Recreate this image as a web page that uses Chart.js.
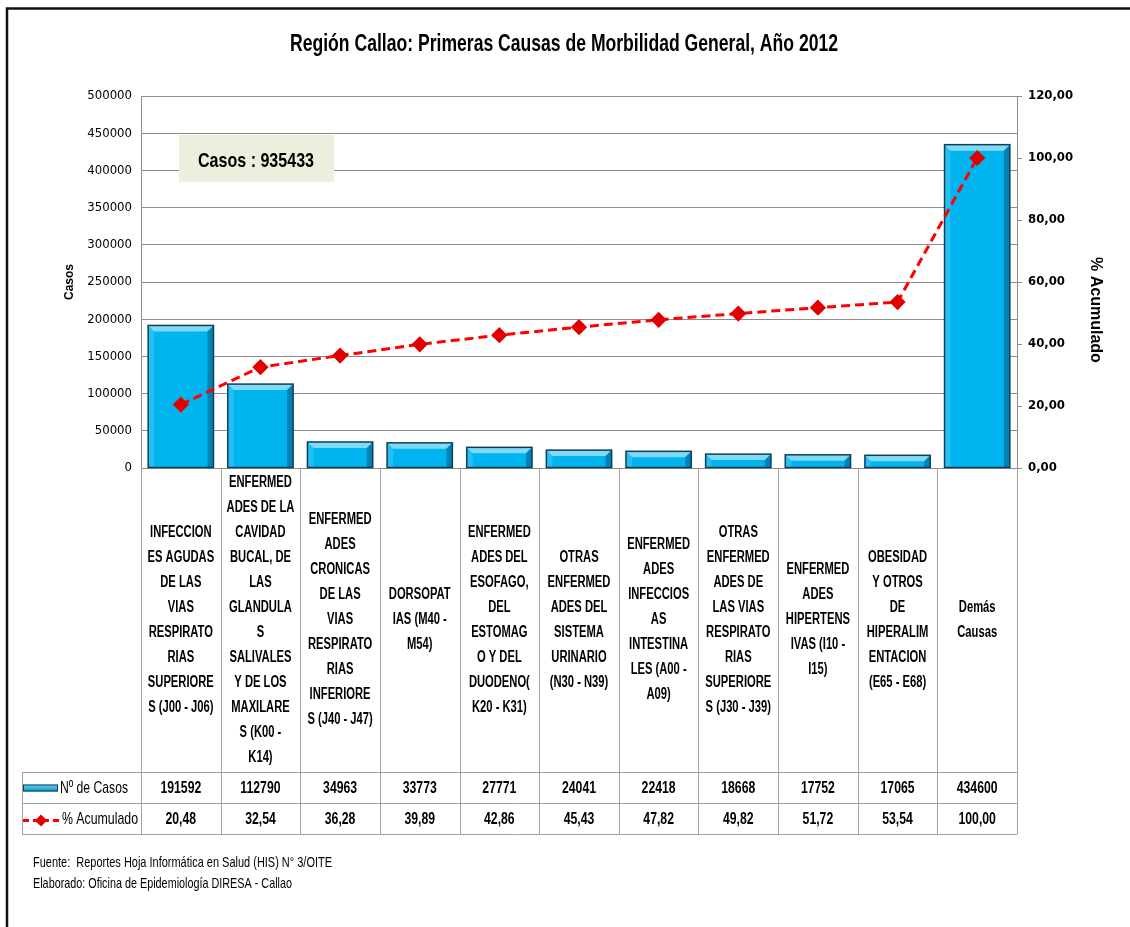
<!DOCTYPE html>
<html>
<head>
<meta charset="utf-8">
<script src="https://cdn.jsdelivr.net/npm/chart.js@4"></script>
<style>
	body { margin: 0; background: #fff; }
	canvas { display: block; }
</style>
</head>
<body>
<canvas id="chart" width="1130" height="927"></canvas>
<script>
// Datos del gráfico
const causas = [
	['INFECCION', 'ES AGUDAS', 'DE LAS', 'VIAS', 'RESPIRATO', 'RIAS', 'SUPERIORE', 'S (J00 - J06)'],
	['ENFERMED', 'ADES DE LA', 'CAVIDAD', 'BUCAL, DE', 'LAS', 'GLANDULA', 'S', 'SALIVALES', 'Y DE LOS', 'MAXILARE', 'S (K00 -', 'K14)'],
	['ENFERMED', 'ADES', 'CRONICAS', 'DE LAS', 'VIAS', 'RESPIRATO', 'RIAS', 'INFERIORE', 'S (J40 - J47)'],
	['DORSOPAT', 'IAS (M40 -', 'M54)'],
	['ENFERMED', 'ADES DEL', 'ESOFAGO,', 'DEL', 'ESTOMAG', 'O Y DEL', 'DUODENO(', 'K20 - K31)'],
	['OTRAS', 'ENFERMED', 'ADES DEL', 'SISTEMA', 'URINARIO', '(N30 - N39)'],
	['ENFERMED', 'ADES', 'INFECCIOS', 'AS', 'INTESTINA', 'LES (A00 -', 'A09)'],
	['OTRAS', 'ENFERMED', 'ADES DE', 'LAS VIAS', 'RESPIRATO', 'RIAS', 'SUPERIORE', 'S (J30 - J39)'],
	['ENFERMED', 'ADES', 'HIPERTENS', 'IVAS (I10 -', 'I15)'],
	['OBESIDAD', 'Y OTROS', 'DE', 'HIPERALIM', 'ENTACION', '(E65 - E68)'],
	['Demás', 'Causas']
];
const casos = [191592, 112790, 34963, 33773, 27771, 24041, 22418, 18668, 17752, 17065, 434600];
const acumulado = [20.48, 32.54, 36.28, 39.89, 42.86, 45.43, 47.82, 49.82, 51.72, 53.54, 100.00];
const casosMax = 500000;
const casosPaso = 50000;
const pctMax = 120;
const pctPaso = 20;
const totalCasos = 935433;

const titulo = 'Región Callao: Primeras Causas de Morbilidad General, Año 2012';
const fuente = 'Fuente:  Reportes Hoja Informática en Salud (HIS) N° 3/OITE';
const elaborado = 'Elaborado: Oficina de Epidemiología DIRESA - Callao';

const FUENTE = '"Liberation Sans", Arial, sans-serif';
const ANGOSTA = '"Liberation Sans Narrow", "DejaVu Sans Condensed", "Liberation Sans", sans-serif';
const GRIS = '#8c8c8c';

const coma = (v) => v.toFixed(2).replace('.', ',');

// escribe texto comprimido horizontalmente (sx) o ajustado a un ancho
function texto(ctx, str, x, y, opts) {
	const o = Object.assign({ size: 16, bold: false, align: 'left', base: 'alphabetic', sx: 0.7, ancho: null }, opts);
	ctx.save();
	ctx.font = (o.bold ? 'bold ' : '') + o.size + 'px ' + FUENTE;
	ctx.fillStyle = o.color || '#000';
	ctx.textAlign = o.align;
	ctx.textBaseline = o.base;
	ctx.translate(x, y);
	let sx = o.sx;
	if (o.ancho) sx = o.ancho / ctx.measureText(str).width;
	ctx.scale(sx, 1);
	ctx.fillText(str, 0, 0);
	ctx.restore();
}

// relieve de las barras
const relieve = {
	id: 'relieve',
	afterDatasetDraw(chart, args) {
		if (args.index !== 1) return;
		const ctx = chart.ctx;
		args.meta.data.forEach((bar) => {
			const l = bar.x - bar.width / 2;
			const r = bar.x + bar.width / 2;
			const t = bar.y;
			const b = bar.base;
			const d = Math.min(6, (b - t) / 2);
			ctx.save();
			ctx.fillStyle = 'rgba(255,255,255,0.5)';
			ctx.beginPath();
			ctx.moveTo(l, t); ctx.lineTo(r, t); ctx.lineTo(r - d, t + d); ctx.lineTo(l + d, t + d);
			ctx.closePath(); ctx.fill();
			ctx.fillStyle = 'rgba(0,40,70,0.35)';
			ctx.beginPath();
			ctx.moveTo(r, t); ctx.lineTo(r, b); ctx.lineTo(r - d, b); ctx.lineTo(r - d, t + d);
			ctx.closePath(); ctx.fill();
			ctx.fillStyle = 'rgba(255,255,255,0.15)';
			ctx.beginPath();
			ctx.moveTo(l, t); ctx.lineTo(l + d, t + d); ctx.lineTo(l + d, b); ctx.lineTo(l, b);
			ctx.closePath(); ctx.fill();
			ctx.strokeStyle = '#0d3f57';
			ctx.lineWidth = 1.5;
			ctx.strokeRect(l, t, r - l, b - t);
			ctx.restore();
		});
	}
};

// tabla de datos, títulos y textos
const tabla = {
	id: 'tabla',
	afterDatasetsDraw(chart) {
		const ctx = chart.ctx;
		const area = chart.chartArea;
		const x = chart.scales.x;
		const n = causas.length;
		const w = x.width / n;
		const yLab = area.bottom + 304;
		const yFila1 = yLab + 31;
		const yFila2 = yFila1 + 31;
		const xLeyenda = 22;

		// cuadro de casos
		ctx.fillStyle = '#ebf0de';
		ctx.fillRect(179, 135, 155, 47);
		texto(ctx, 'Casos : ' + totalCasos, 256, 167, { size: 21, bold: true, align: 'center', ancho: 116 });

		// líneas de la tabla
		ctx.save();
		ctx.strokeStyle = '#a3a3a3';
		ctx.lineWidth = 1;
		for (let i = 0; i <= n; i++) {
			const bx = Math.round(x.getPixelForValue(i) - w / 2) + 0.5;
			ctx.beginPath();
			ctx.moveTo(bx, area.bottom);
			ctx.lineTo(bx, yFila2);
			ctx.stroke();
		}
		ctx.beginPath();
		ctx.moveTo(xLeyenda + 0.5, yLab);
		ctx.lineTo(xLeyenda + 0.5, yFila2);
		[yLab, yFila1, yFila2].forEach((y) => {
			ctx.moveTo(xLeyenda, y + 0.5);
			ctx.lineTo(x.right, y + 0.5);
		});
		ctx.stroke();
		ctx.restore();

		// etiquetas de categorías y valores
		const yCentro = (area.bottom + yLab) / 2;
		causas.forEach((lineas, i) => {
			const cx = x.getPixelForValue(i);
			lineas.forEach((ln, j) => {
				const y = yCentro - (lineas.length - 1) * 12.5 + j * 25;
				texto(ctx, ln, cx, y, { size: 16, bold: true, align: 'center', base: 'middle', sx: 0.7 });
			});
			texto(ctx, String(casos[i]), cx, (yLab + yFila1) / 2 + 1, { size: 17, bold: true, align: 'center', base: 'middle', sx: 0.72 });
			texto(ctx, coma(acumulado[i]), cx, (yFila1 + yFila2) / 2 + 1, { size: 17, bold: true, align: 'center', base: 'middle', sx: 0.72 });
		});

		// leyenda
		const yl1 = (yLab + yFila1) / 2;
		const yl2 = (yFila1 + yFila2) / 2;
		const grad = ctx.createLinearGradient(0, yl1 - 4, 0, yl1 + 4);
		grad.addColorStop(0, '#7fd8f7');
		grad.addColorStop(1, '#0096cf');
		ctx.fillStyle = grad;
		ctx.fillRect(23, yl1 - 3, 35, 7);
		ctx.strokeStyle = '#0d3f57';
		ctx.lineWidth = 1;
		ctx.strokeRect(23.5, yl1 - 2.5, 34, 6);
		texto(ctx, 'Nº de Casos', 60, yl1 + 1, { size: 17, base: 'middle', ancho: 68 });

		ctx.save();
		ctx.strokeStyle = '#ff0000';
		ctx.lineWidth = 3;
		ctx.setLineDash([6, 4]);
		ctx.beginPath();
		ctx.moveTo(23, yl2 + 2);
		ctx.lineTo(60, yl2 + 2);
		ctx.stroke();
		ctx.fillStyle = '#e00000';
		ctx.beginPath();
		ctx.moveTo(41, yl2 - 4); ctx.lineTo(47, yl2 + 2); ctx.lineTo(41, yl2 + 8); ctx.lineTo(35, yl2 + 2);
		ctx.closePath(); ctx.fill();
		ctx.restore();
		texto(ctx, '% Acumulado', 62, yl2 + 1, { size: 17, base: 'middle', ancho: 76 });

		// títulos
		texto(ctx, titulo, 564, 51, { size: 24, bold: true, align: 'center', ancho: 548 });
		ctx.save();
		ctx.font = 'bold 12px ' + FUENTE;
		ctx.fillStyle = '#000';
		ctx.textAlign = 'center';
		ctx.textBaseline = 'middle';
		ctx.translate(70, 282);
		ctx.rotate(-Math.PI / 2);
		ctx.fillText('Casos', 0, 0);
		ctx.restore();
		ctx.save();
		ctx.font = 'bold 16px ' + FUENTE;
		ctx.fillStyle = '#000';
		ctx.textAlign = 'center';
		ctx.textBaseline = 'middle';
		ctx.translate(1095, 310);
		ctx.rotate(Math.PI / 2);
		ctx.fillText('% Acumulado', 0, 0);
		ctx.restore();

		// fuente
		texto(ctx, fuente, 33, 867, { size: 15, ancho: 299 });
		texto(ctx, elaborado, 33, 888, { size: 15, ancho: 259 });

		// marco
		ctx.save();
		ctx.strokeStyle = '#111';
		ctx.lineWidth = 2.5;
		ctx.beginPath();
		ctx.moveTo(1130, 8.5);
		ctx.lineTo(7, 8.5);
		ctx.lineTo(7, 927);
		ctx.stroke();
		ctx.restore();
	}
};

const canvas = document.getElementById('chart');

const config = {
	type: 'bar',
	data: {
		labels: causas.map((c) => c.join(' ')),
		datasets: [
			{
				type: 'line',
				label: '% Acumulado',
				data: acumulado,
				yAxisID: 'y1',
				order: 0,
				borderColor: '#ff0000',
				borderWidth: 3,
				borderDash: [9, 5],
				pointStyle: 'rectRot',
				pointRadius: 6,
				pointBackgroundColor: '#e00000',
				pointBorderColor: '#e00000',
				tension: 0
			},
			{
				type: 'bar',
				label: 'Nº de Casos',
				data: casos,
				yAxisID: 'y',
				order: 1,
				backgroundColor: '#00b4ef',
				borderWidth: 0,
				barPercentage: 0.82,
				categoryPercentage: 1
			}
		]
	},
	options: {
		responsive: false,
		animation: false,
		layout: { padding: { top: 96, bottom: 459, left: 0, right: 0 } },
		plugins: {
			legend: { display: false },
			tooltip: { enabled: false }
		},
		scales: {
			x: {
				ticks: { display: false },
				grid: { display: false },
				border: { display: true, color: GRIS },
				afterFit: (s) => { s.height = 0; }
			},
			y: {
				position: 'left',
				min: 0,
				max: casosMax,
				ticks: { stepSize: casosPaso, color: '#000', padding: 9, font: { family: ANGOSTA, size: 13 }, callback: (v) => String(v) },
				grid: { color: GRIS, drawTicks: false },
				border: { color: GRIS },
				afterFit: (s) => { s.width = 141; }
			},
			y1: {
				position: 'right',
				min: 0,
				max: pctMax,
				ticks: { stepSize: pctPaso, color: '#000', padding: 6, font: { family: ANGOSTA, size: 13, weight: 'bold' }, callback: (v) => coma(v) },
				grid: { drawOnChartArea: false, color: GRIS, tickLength: 5 },
				border: { color: GRIS },
				afterFit: (s) => { s.width = 113; }
			}
		}
	},
	plugins: [relieve, tabla]
};

const graph = new Chart(canvas, config);
</script>
</body>
</html>
